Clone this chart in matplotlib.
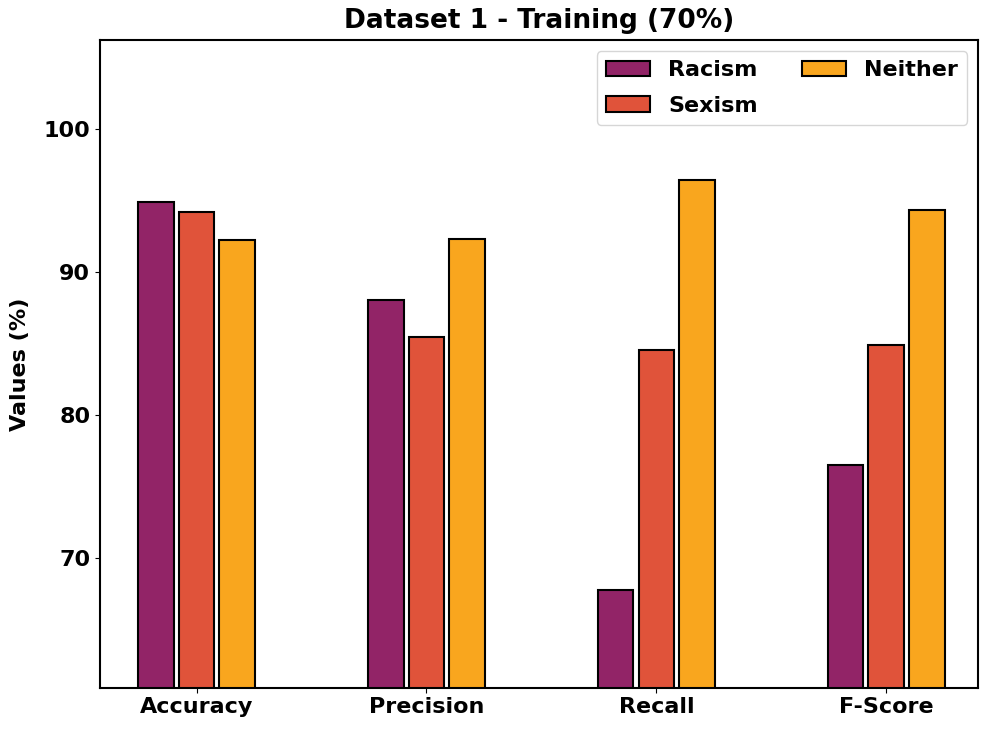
import numpy as np
import matplotlib.pyplot as plt

metrics = ["Accuracy", "Precision", "Recall", "F-Score"]
racism = [94.9, 88.0, 67.7, 76.5]
sexism = [94.2, 85.4, 84.5, 84.9]
neither = [92.2, 92.3, 96.4, 94.3]

x = np.arange(len(metrics))
w = 0.155
step = 0.177

plt.rcParams["font.weight"] = "bold"
fig, ax = plt.subplots(figsize=(9.91, 7.3), dpi=100)

ax.bar(x - step, racism, w, color="#922467", edgecolor="black", linewidth=1.5, label="Racism")
ax.bar(x, sexism, w, color="#E0533A", edgecolor="black", linewidth=1.5, label="Sexism")
ax.bar(x + step, neither, w, color="#F9A61E", edgecolor="black", linewidth=1.5, label="Neither")

ax.set_xticks(x)
ax.set_xticklabels(metrics, fontsize=16, fontweight="bold")
ax.set_yticks([70, 80, 90, 100])
ax.tick_params(axis="y", labelsize=16)
ax.set_ylim(60.9, 106.2)
ax.set_xlim(-0.42, 3.40)
ax.set_ylabel("Values (%)", fontsize=16, fontweight="bold", labelpad=10)
ax.set_title("Dataset 1 - Training (70%)", fontsize=19, fontweight="bold", pad=9)
ax.legend(ncol=2, fontsize=16, loc="upper right", labelspacing=0.7)
for s in ax.spines.values():
    s.set_linewidth(1.5)

plt.subplots_adjust(left=0.101, right=0.987, top=0.945, bottom=0.058)
plt.savefig("out.png")
